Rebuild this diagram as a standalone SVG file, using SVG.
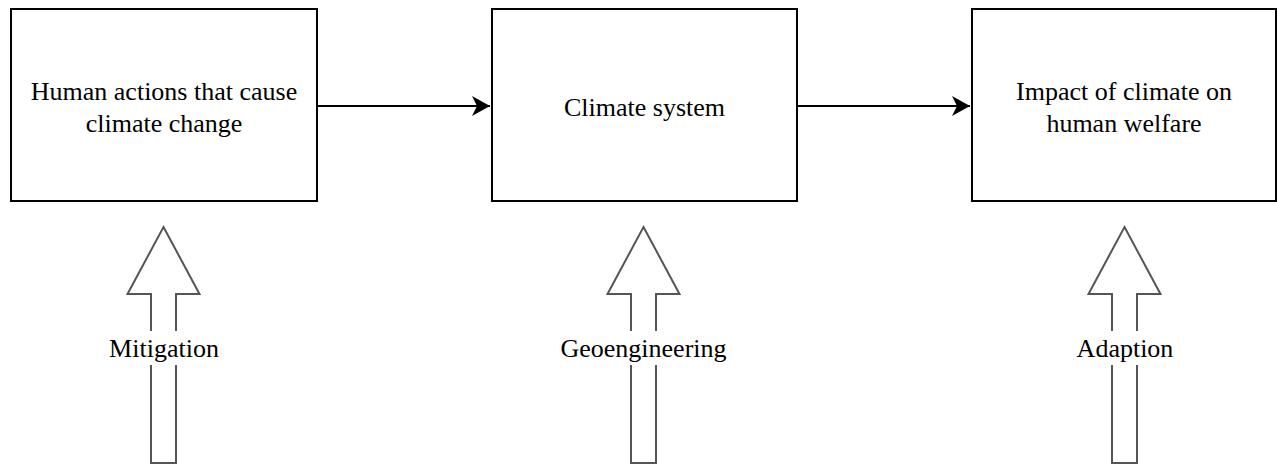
<svg xmlns="http://www.w3.org/2000/svg" width="1277" height="465" viewBox="0 0 1277 465">
<style>
.box{fill:#fff;stroke:#000;stroke-width:2}
.txt{font-family:"Liberation Serif","Times New Roman",serif;font-size:26px;fill:#000;text-anchor:middle}
.hollow{fill:#fff;stroke:#555;stroke-width:2;stroke-linejoin:miter}
.conn{stroke:#000;stroke-width:2;fill:none}
.bg{fill:#fff}
</style>
<defs>
<marker id="ah" viewBox="0 0 20 20" refX="18" refY="10" markerWidth="20" markerHeight="20" markerUnits="userSpaceOnUse" orient="auto">
<path d="M0,0 L18,10 L0,20 L5,10 Z" fill="#000"/>
</marker>
</defs>
<rect width="1277" height="465" fill="#fff"/>
<g id="connectors">
<line class="conn" x1="317" y1="106" x2="490" y2="106" marker-end="url(#ah)"/>
<line class="conn" x1="797" y1="106" x2="970" y2="106" marker-end="url(#ah)"/>
</g>
<g id="node-human">
<rect class="box" x="11" y="9" width="306" height="192"/>
<text class="txt" x="164" y="100">Human actions that cause</text>
<text class="txt" x="164" y="132">climate change</text>
</g>
<g id="node-climate">
<rect class="box" x="492" y="9" width="305" height="192"/>
<text class="txt" x="644.5" y="116">Climate system</text>
</g>
<g id="node-impact">
<rect class="box" x="972" y="9" width="304" height="192"/>
<text class="txt" x="1124" y="100">Impact of climate on</text>
<text class="txt" x="1124" y="132">human welfare</text>
</g>
<g id="node-mitigation">
<path class="hollow" d="M163.5,227 L199.5,294 L176,294 L176,463 L151,463 L151,294 L127.5,294 Z"/>
<rect class="bg" x="110" y="331" width="108" height="34"/>
<text class="txt" x="164" y="357">Mitigation</text>
</g>
<g id="node-geoengineering">
<path class="hollow" d="M643.5,227 L679.5,294 L656,294 L656,463 L631,463 L631,294 L607.5,294 Z"/>
<rect class="bg" x="562" y="331" width="164" height="34"/>
<text class="txt" x="643.5" y="357">Geoengineering</text>
</g>
<g id="node-adaption">
<path class="hollow" d="M1124.5,227 L1160.5,294 L1137,294 L1137,463 L1112,463 L1112,294 L1088.5,294 Z"/>
<rect class="bg" x="1077" y="331" width="96" height="34"/>
<text class="txt" x="1125" y="357">Adaption</text>
</g>
</svg>
